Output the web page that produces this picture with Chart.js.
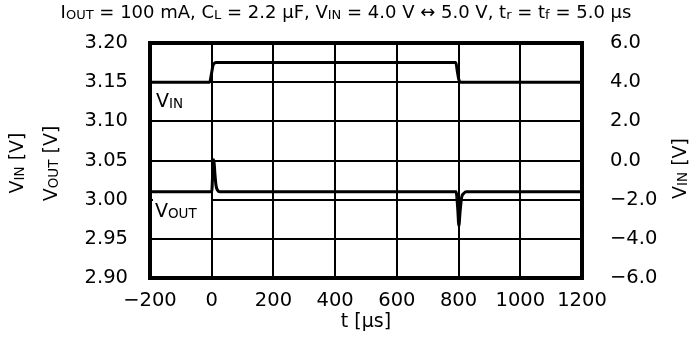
<!DOCTYPE html>
<html><head><meta charset="utf-8">
<script src="https://cdn.jsdelivr.net/npm/chart.js@4"></script>
<style>html,body{margin:0;padding:0;background:#fff;}canvas{display:block}</style>
</head><body>
<canvas id="c" width="693" height="356"></canvas>
<script>
// ---- data ----
const timeVin = [-200, -7, 0, 4, 9, 15, 791, 796, 801, 806, 1200];
const vinValues = [4.0, 4.0, 4.5, 4.85, 4.97, 5.0, 5.0, 4.55, 4.12, 4.0, 4.0];
const timeVout = [-200, 0, 4, 7, 10, 14, 19, 26, 792, 797, 801, 805, 810, 817, 825, 1200];
const voutValues = [3.010, 3.010, 3.040, 3.051, 3.035, 3.018, 3.012, 3.010, 3.010, 2.990, 2.967, 2.985, 3.003, 3.008, 3.010, 3.010];
const xTickValues = [-200, 0, 200, 400, 600, 800, 1000, 1200];
const leftTickValues = [2.90, 2.95, 3.00, 3.05, 3.10, 3.15, 3.20];
const rightTickValues = [-6, -4, -2, 0, 2, 4, 6];
const titleSegments = [["I",0],["OUT",1],[" = 100 mA, C",0],["L",1],[" = 2.2 \u00b5F, V",0],["IN",1],[" = 4.0 V \u2194 5.0 V, t",0],["r",1],[" = t",0],["f",1],[" = 5.0 \u00b5s",0]];
const leftOuterTitle = [["V",0],["IN",1],[" [V]",0]];
const leftInnerTitle = [["V",0],["OUT",1],[" [V]",0]];
const rightTitle = [["V",0],["IN",1],[" [V]",0]];
const vinLabel = [["V",0],["IN",1]];
const voutLabel = [["V",0],["OUT",1]];
const xTitle = "t [\u00b5s]";

const FAM = '"DejaVu Sans", sans-serif';
const minus = s => s.replace('-', '\u2212');

function richWidth(ctx, segs, m, s) {
  let w = 0;
  for (const [t, sub] of segs) { ctx.font = (sub ? s : m) + 'px ' + FAM; w += ctx.measureText(t).width; }
  return w;
}
function drawRich(ctx, segs, x, y, align, m, s) {
  ctx.textBaseline = 'alphabetic'; ctx.textAlign = 'left'; ctx.fillStyle = '#000';
  let cx = x;
  if (align === 'center') cx = x - richWidth(ctx, segs, m, s) / 2;
  for (const [t, sub] of segs) {
    ctx.font = (sub ? s : m) + 'px ' + FAM;
    ctx.fillText(t, cx, y + (sub ? 1 : 0));
    cx += ctx.measureText(t).width;
  }
}
function drawRotated(ctx, segs, x, y, m, s) {
  ctx.save(); ctx.translate(x, y); ctx.rotate(-Math.PI / 2);
  drawRich(ctx, segs, 0, 0, 'center', m, s); ctx.restore();
}

const decor = {
  id: 'decor',
  afterDraw(chart) {
    const ctx = chart.ctx, a = chart.chartArea;
    ctx.save();
    ctx.strokeStyle = '#000'; ctx.lineWidth = 4;
    ctx.strokeRect(a.left, a.top, a.right - a.left, a.bottom - a.top);
    ctx.fillStyle = '#fff';
    ctx.fillRect(a.left + 3, 196, 58, 26);
    drawRich(ctx, vinLabel, 156, 107, 'left', 19, 13.5);
    drawRich(ctx, voutLabel, 155, 217, 'left', 19, 13.5);
    drawRich(ctx, titleSegments, 346, 18, 'center', 18, 13);
    drawRotated(ctx, leftOuterTitle, 23, 163, 19, 13.5);
    drawRotated(ctx, leftInnerTitle, 56.5, 163.5, 19, 13.5);
    drawRotated(ctx, rightTitle, 686, 168.5, 19, 13.5);
    ctx.font = '19px ' + FAM; ctx.textAlign = 'center'; ctx.textBaseline = 'alphabetic'; ctx.fillStyle = '#000';
    ctx.fillText(xTitle, (a.left + a.right) / 2, 327);
    ctx.restore();
  }
};

const gridCommon = { color: '#000', lineWidth: 2, drawTicks: false };
const tickFont = { size: 19.5, family: FAM };
new Chart(document.getElementById('c'), {
  type: 'line',
  data: {
    datasets: [
      { label: 'VIN', yAxisID: 'y2', data: timeVin.map((t, i) => ({ x: t, y: vinValues[i] })),
        borderColor: '#000', borderWidth: 3, pointRadius: 0, fill: false, cubicInterpolationMode: 'monotone' },
      { label: 'VOUT', yAxisID: 'y', data: timeVout.map((t, i) => ({ x: t, y: voutValues[i] })),
        borderColor: '#000', borderWidth: 3, pointRadius: 0, fill: false, cubicInterpolationMode: 'monotone' }
    ]
  },
  options: {
    responsive: false, animation: false, devicePixelRatio: 1,
    layout: { padding: { top: 43, left: 0, right: 0, bottom: 0 } },
    plugins: { legend: { display: false }, tooltip: { enabled: false }, title: { display: false } },
    scales: {
      x: {
        type: 'linear', min: -200, max: 1200,
        afterBuildTicks: s => { s.ticks = xTickValues.map(v => ({ value: v })); },
        afterFit: s => { s.height = 78; },
        grid: gridCommon, border: { display: false },
        ticks: { color: '#000', font: tickFont, padding: 11, maxRotation: 0, autoSkip: false,
                 callback: v => minus(String(v)) }
      },
      y: {
        position: 'left', min: 2.90, max: 3.20,
        afterBuildTicks: s => { s.ticks = leftTickValues.map(v => ({ value: v })); },
        afterFit: s => { s.width = 150; },
        grid: gridCommon, border: { display: false },
        ticks: { color: '#000', font: tickFont, padding: 22, autoSkip: false,
                 callback: v => Number(v).toFixed(2) }
      },
      y2: {
        position: 'right', min: -6, max: 6,
        afterBuildTicks: s => { s.ticks = rightTickValues.map(v => ({ value: v })); },
        afterFit: s => { s.width = 111; },
        grid: { display: false, drawTicks: false }, border: { display: false },
        ticks: { color: '#000', font: tickFont, padding: 28, autoSkip: false,
                 callback: v => minus(Number(v).toFixed(1)) }
      }
    }
  },
  plugins: [decor]
});
</script>
</body></html>
